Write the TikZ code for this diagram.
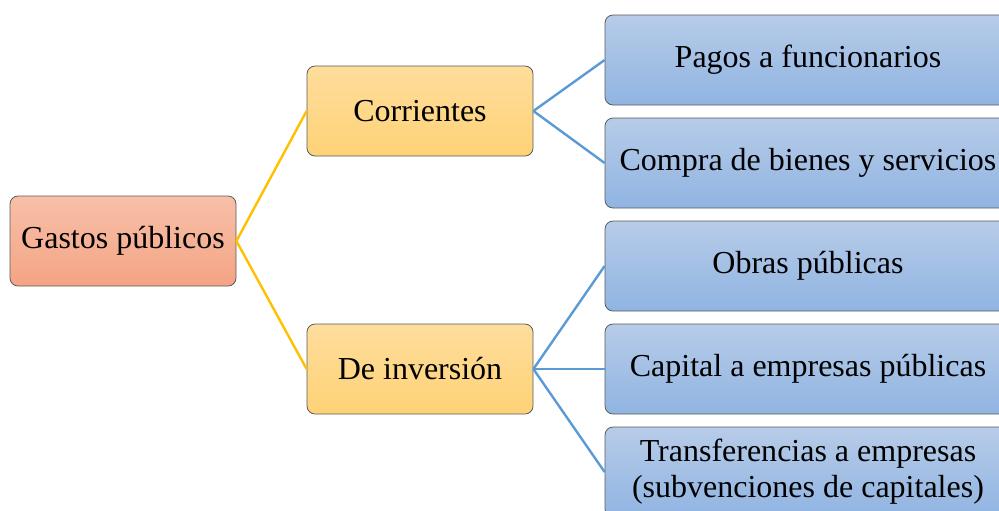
\documentclass[tikz,border=0pt]{standalone}
\usepackage{fontspec}
\setmainfont{Liberation Serif}
\usetikzlibrary{positioning}
\definecolor{rootTop}{RGB}{247,192,168}
\definecolor{rootBot}{RGB}{244,164,132}
\definecolor{midTop}{RGB}{254,221,156}
\definecolor{midBot}{RGB}{254,210,118}
\definecolor{leafTop}{RGB}{183,204,232}
\definecolor{leafBot}{RGB}{144,180,226}
\definecolor{edgeorange}{RGB}{255,192,0}
\definecolor{edgeblue}{RGB}{91,155,213}
\definecolor{boxline}{RGB}{90,90,90}
\tikzset{
    rootbox/.style={rectangle, rounded corners=4pt, minimum width=113pt, minimum height=45pt, text centered, draw=boxline, top color=rootTop, bottom color=rootBot},
    midbox/.style={rectangle, rounded corners=4pt, minimum width=113pt, minimum height=45pt, text centered, draw=boxline, top color=midTop, bottom color=midBot},
    leafbox/.style={rectangle, rounded corners=4pt, minimum width=203pt, minimum height=45pt, inner xsep=1pt, align=center, draw=boxline, top color=leafTop, bottom color=leafBot},
    orangeline/.style={edgeorange, line width=1.2pt},
    blueline/.style={edgeblue, line width=1.2pt}
}
\begin{document}
\begin{tikzpicture}[x=0.5pt, y=0.5pt, font=\fontsize{16}{18}\selectfont, node distance=6.1pt]

\useasboundingbox (0,0) rectangle (999,-510);

% Root
\node[rootbox] (gastos) at (123,-241) {Gastos públicos};

% Second level
\node[midbox] (corrientes) at (420,-111) {Corrientes};
\node[midbox] (inversion) at (420,-369) {De inversión};

% Leaves
\node[leafbox] (pagos) at (808,-60) {Pagos a funcionarios};
\node[leafbox, below=of pagos] (compra) {Compra de bienes y servicios};
\node[leafbox, below=of compra] (obras) {Obras públicas};
\node[leafbox, below=of obras] (capital) {Capital a empresas públicas};
\node[leafbox, below=of capital] (transfer) {Transferencias a empresas\\(subvenciones de capitales)};

% Connectors
\draw[orangeline] (gastos.east) -- (corrientes.west);
\draw[orangeline] (gastos.east) -- (inversion.west);
\draw[blueline] (corrientes.east) -- (pagos.west);
\draw[blueline] (corrientes.east) -- (compra.west);
\draw[blueline] (inversion.east) -- (obras.west);
\draw[blueline] (inversion.east) -- (capital.west);
\draw[blueline] (inversion.east) -- (transfer.west);

\end{tikzpicture}
\end{document}
